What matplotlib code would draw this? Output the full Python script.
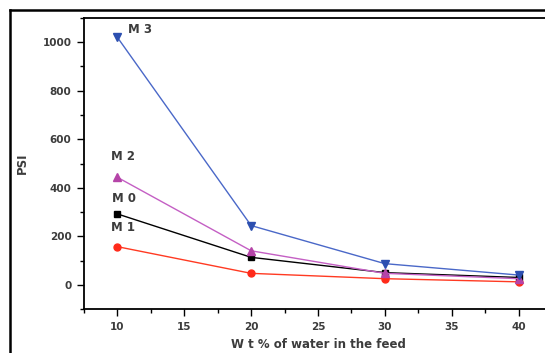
import matplotlib
matplotlib.use("Agg")
import matplotlib.pyplot as plt
from matplotlib.lines import Line2D
from matplotlib.ticker import MultipleLocator

plt.rcParams['font.family'] = ['DejaVu Sans']

wt = [10, 20, 30, 40]
m0 = [292, 113, 50, 30]
m1 = [157, 47, 25, 12]
m2 = [443, 140, 47, 25]
m3 = [1020, 244, 87, 40]

fig = plt.figure(figsize=(5.45, 3.53), dpi=100)
ax = fig.add_axes([84/545, 44/353, 468/545, 291/353])

ax.plot(wt, m1, color='#ff3a22', lw=1.0, marker='o', ms=5, mfc='#ff2a1a', mec='#ff2a1a', zorder=3)
ax.plot(wt, m0, color='black', lw=1.0, marker='s', ms=5, zorder=4)
ax.plot(wt, m2, color='#c45fc4', lw=1.0, marker='^', ms=6, mfc='#b544a8', mec='#b544a8', zorder=5)
ax.plot(wt, m3, color='#4a68c8', lw=1.0, marker='v', ms=6, mfc='#2c4fb0', mec='#2c4fb0', zorder=6)

ax.set_xlim(7.5, 42.5)
ax.set_ylim(-100, 1100)
ax.xaxis.set_major_locator(MultipleLocator(5))
ax.xaxis.set_minor_locator(MultipleLocator(2.5))
ax.yaxis.set_major_locator(MultipleLocator(200))
ax.yaxis.set_minor_locator(MultipleLocator(100))
ax.tick_params(which='major', direction='out', length=5, width=1, labelsize=7.5, labelcolor='#3c3c3c', pad=4)
ax.tick_params(which='minor', direction='out', length=3, width=1)
for lab in ax.get_xticklabels() + ax.get_yticklabels():
    lab.set_fontweight('bold')
for s in ax.spines.values():
    s.set_linewidth(1.3)

ax.set_xlabel('W t % of water in the feed', fontsize=8.5, fontweight='bold', color='#3c3c3c', labelpad=5)
ax.set_ylabel('PSI', fontsize=8.5, fontweight='bold', color='#3c3c3c', labelpad=10)

tk = dict(fontsize=8.5, color='#3c3c3c', fontweight='bold')
ax.text(10.8, 1040, 'M 3', **tk)
ax.text(9.5, 515, 'M 2', **tk)
ax.text(9.6, 340, 'M 0', **tk)
ax.text(9.5, 222, 'M 1', **tk)

fig.add_artist(Line2D([10/545, 1], [1-10/353, 1-10/353], transform=fig.transFigure, color='black', lw=1.8))
fig.add_artist(Line2D([10/545, 10/545], [0, 1-10/353], transform=fig.transFigure, color='black', lw=1.8))

fig.savefig('out.png', dpi=100)
